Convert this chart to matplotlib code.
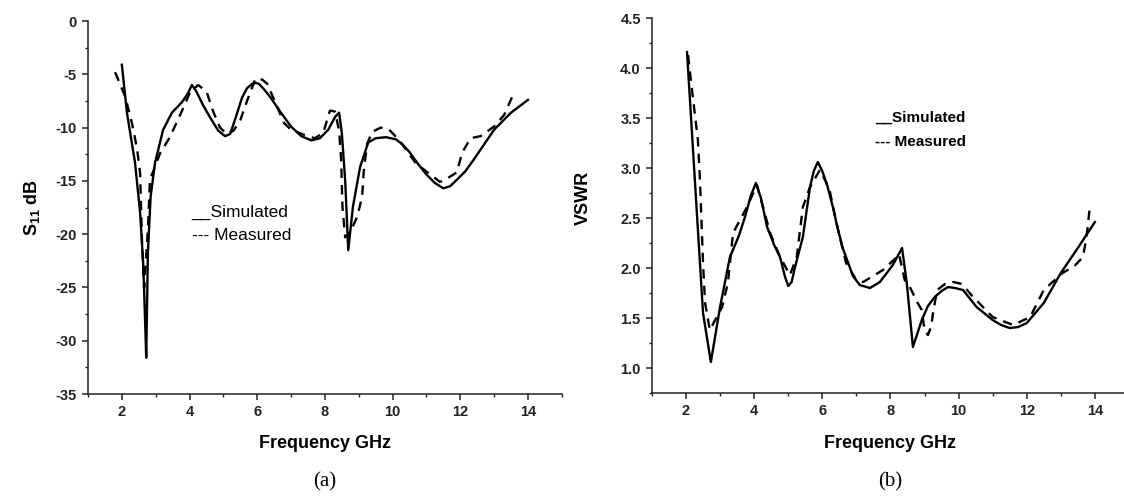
import numpy as np
import matplotlib
matplotlib.use("Agg")
import matplotlib.pyplot as plt
from matplotlib.ticker import MultipleLocator

plt.rcParams['font.family'] = ['Liberation Sans', 'DejaVu Sans']
plt.rcParams['font.weight'] = 'bold'
plt.rcParams['axes.unicode_minus'] = False
plt.rcParams['mathtext.fontset'] = 'custom'
plt.rcParams['mathtext.rm'] = 'Liberation Sans:bold'
plt.rcParams['mathtext.bf'] = 'Liberation Sans:bold'
plt.rcParams['mathtext.default'] = 'bf'

# ======================
# S11 data (a)
# ======================
s11_sim_f = [2.0, 2.15, 2.39, 2.54, 2.63, 2.68, 2.72, 2.77, 2.85, 2.98, 3.22, 3.48, 3.78, 3.95, 4.07,
             4.2, 4.4, 4.6, 4.85, 5.05, 5.2, 5.35, 5.55, 5.7, 5.85, 5.95, 6.05, 6.2, 6.4, 6.7,
             7.0, 7.3, 7.6, 7.85, 8.1, 8.3, 8.42, 8.5, 8.6, 8.69, 8.83, 9.04, 9.28, 9.5, 9.8,
             10.1, 10.3, 10.5, 10.75, 11.0, 11.25, 11.5, 11.7, 11.9, 12.15, 12.4, 12.7, 13.0,
             13.5, 14.0]
s11_sim = [-4.1, -8.6, -13.3, -18.0, -22.7, -27.4, -31.6, -21.8, -16.5, -13.3, -10.2, -8.6, -7.6, -6.8, -6.0,
           -6.6, -7.9, -9.0, -10.3, -10.8, -10.6, -9.2, -7.2, -6.3, -5.9, -5.8, -5.9, -6.4, -7.2, -8.6,
           -9.9, -10.8, -11.2, -11.0, -10.2, -9.0, -8.6, -10.5, -15.0, -21.5, -17.4, -13.7, -11.4, -11.0, -10.9,
           -11.1, -11.6, -12.3, -13.4, -14.4, -15.2, -15.7, -15.5, -14.9, -14.1, -13.0, -11.6, -10.2,
           -8.6, -7.4]

s11_meas_f = [1.8, 2.1, 2.3, 2.45, 2.54, 2.6, 2.66, 2.72, 2.77, 2.83, 3.0, 3.13, 3.42, 3.78,
              4.0, 4.25, 4.5, 4.7, 4.9, 5.1, 5.3, 5.5, 5.7, 5.95, 6.15, 6.3, 6.5, 6.8,
              7.0, 7.4, 7.7, 7.95, 8.15, 8.3, 8.42, 8.48, 8.52, 8.6, 8.75, 8.95, 9.1, 9.15,
              9.25, 9.4, 9.65, 9.9, 10.2, 10.7, 11.2, 11.4, 11.6, 11.9, 12.05, 12.3, 12.6,
              13.0, 13.3, 13.55]
s11_meas = [-4.8, -7.1, -9.6, -12.0, -14.3, -21.2, -25.0, -22.0, -19.6, -14.9, -13.5, -12.4, -10.9, -8.4,
            -6.8, -6.0, -6.6, -8.5, -10.0, -10.6, -10.3, -9.3, -7.5, -5.4, -5.5, -5.9, -7.4, -9.6,
            -10.2, -10.7, -11.0, -10.5, -8.4, -8.5, -10.3, -13.0, -17.5, -20.3, -19.8, -18.4, -16.5, -14.0,
            -11.5, -10.4, -10.0, -10.2, -11.2, -13.4, -14.6, -15.1, -14.8, -14.2, -12.4, -11.0, -10.8,
            -9.9, -8.8, -7.0]

# ======================
# VSWR data (b)
# ======================
vswr_sim_f = [2.03, 2.35, 2.5, 2.73, 3.0, 3.29, 3.55, 3.73, 3.9, 4.05, 4.2, 4.38, 4.6, 4.76,
              4.9, 5.0, 5.1, 5.2, 5.43, 5.64, 5.75, 5.87, 6.0, 6.15, 6.31, 6.45, 6.6, 6.9,
              7.1, 7.4, 7.69, 8.07, 8.34, 8.48, 8.66, 8.92, 9.1, 9.3, 9.5, 9.69, 9.9, 10.13,
              10.53, 11.0, 11.25, 11.5, 11.75, 12.0, 12.5, 13.0, 13.5, 14.0]
vswr_sim = [4.16, 2.38, 1.55, 1.06, 1.61, 2.11, 2.32, 2.51, 2.72, 2.85, 2.7, 2.41, 2.22, 2.11,
            1.92, 1.82, 1.86, 2.01, 2.31, 2.81, 2.97, 3.06, 2.97, 2.82, 2.61, 2.4, 2.2, 1.92,
            1.83, 1.8, 1.86, 2.03, 2.2, 1.85, 1.21, 1.48, 1.62, 1.71, 1.77, 1.81, 1.8, 1.78,
            1.61, 1.48, 1.43, 1.4, 1.41, 1.45, 1.65, 1.95, 2.2, 2.46]

vswr_meas_f = [2.06, 2.2, 2.35, 2.41, 2.5, 2.56, 2.7, 3.06, 3.23, 3.38, 3.79, 4.08, 4.47, 4.76,
               5.05, 5.25, 5.43, 5.64, 5.93, 6.2, 6.45, 6.7, 7.0, 7.2, 7.78, 8.19, 8.25, 8.42,
               8.57, 8.8, 8.92, 9.0, 9.1, 9.2, 9.25, 9.37, 9.6, 9.85, 10.1, 10.4, 11.0, 11.6,
               12.1, 12.5, 13.05, 13.4, 13.65, 13.75, 13.85]
vswr_meas = [4.13, 3.71, 3.28, 2.88, 2.05, 1.65, 1.38, 1.61, 1.85, 2.35, 2.61, 2.83, 2.35, 2.11,
             1.93, 2.11, 2.61, 2.81, 2.98, 2.8, 2.4, 2.05, 1.88, 1.86, 1.98, 2.11, 2.14, 1.88,
             1.81, 1.65, 1.58, 1.38, 1.33, 1.42, 1.55, 1.78, 1.84, 1.86, 1.84, 1.72, 1.51, 1.43,
             1.51, 1.78, 1.95, 2.02, 2.11, 2.3, 2.6]

fig = plt.figure(figsize=(11.24, 4.98), dpi=100)
ax_a = fig.add_axes([0.0783, 0.2088, 0.4215, 0.749])
ax_b = fig.add_axes([0.58, 0.2108, 0.4244, 0.753])

LW = 1.7
DASH = (4, 3)


def style_axis(ax):
    for side in ("top", "right"):
        ax.spines[side].set_visible(False)
    for side in ("left", "bottom"):
        ax.spines[side].set_linewidth(1.1)
        ax.spines[side].set_color("#222222")
    ax.xaxis.set_major_locator(MultipleLocator(2))
    ax.xaxis.set_minor_locator(MultipleLocator(1))
    ax.tick_params(which="major", direction="out", length=4, width=1.1,
                   labelsize=10.5, colors="#222222", pad=4)
    ax.tick_params(which="minor", direction="out", length=2.5, width=1.0, colors="#222222")
    ax.set_xlim(1, 15)
    ax.set_xlabel("Frequency GHz", fontsize=13, fontweight="bold", va="top")


# ---------- (a) S11 ----------
ax_a.plot(s11_sim_f, s11_sim, color="black", lw=LW, solid_joinstyle="round")
ax_a.plot(s11_meas_f, s11_meas, color="black", lw=LW, linestyle=(0, DASH))
ax_a.set_ylim(-35, 0)
ax_a.yaxis.set_major_locator(MultipleLocator(5))
ax_a.yaxis.set_minor_locator(MultipleLocator(2.5))
style_axis(ax_a)
ax_a.set_xticks([2, 4, 6, 8, 10, 12, 14])
ax_a.set_ylabel("S$_{11}$ dB", fontsize=13, fontweight="bold")
ax_a.yaxis.set_label_coords(-0.097, 0.5)
ax_a.xaxis.set_label_coords(0.5, -0.11)
ax_a.text(0.218, 0.488, "__Simulated", transform=ax_a.transAxes, fontsize=12.5,
          fontweight="normal", va="center", ha="left")
ax_a.text(0.22, 0.426, "--- Measured", transform=ax_a.transAxes, fontsize=12.5,
          fontweight="normal", va="center", ha="left")

# ---------- (b) VSWR ----------
ax_b.plot(vswr_sim_f, vswr_sim, color="black", lw=LW, solid_joinstyle="round")
ax_b.plot(vswr_meas_f, vswr_meas, color="black", lw=LW, linestyle=(0, DASH))
ax_b.set_ylim(0.75, 4.5)
ax_b.yaxis.set_minor_locator(MultipleLocator(0.25))
style_axis(ax_b)
ax_b.set_xticks([2, 4, 6, 8, 10, 12, 14])
ax_b.set_yticks([1.0, 1.5, 2.0, 2.5, 3.0, 3.5, 4.0, 4.5])
ax_b.set_yticklabels(["1.0", "1.5", "2.0", "2.5", "3.0", "3.5", "4.0", "4.5"])
ax_b.set_ylabel("VSWR", fontsize=13, fontweight="bold")
ax_b.yaxis.set_label_coords(-0.125, 0.52)
ax_b.xaxis.set_label_coords(0.5, -0.113)
ax_b.text(0.468, 0.733, "__Simulated", transform=ax_b.transAxes, fontsize=11,
          fontweight="bold", va="center", ha="left")
ax_b.text(0.468, 0.669, "--- Measured", transform=ax_b.transAxes, fontsize=11,
          fontweight="bold", va="center", ha="left")

fig.text(325 / 1124, 0.032, "(a)", family="Liberation Serif", fontweight="normal",
         fontsize=15, ha="center", va="center")
fig.text(890 / 1124, 0.032, "(b)", family="Liberation Serif", fontweight="normal",
         fontsize=15, ha="center", va="center")

fig.savefig("out.png", dpi=100)
